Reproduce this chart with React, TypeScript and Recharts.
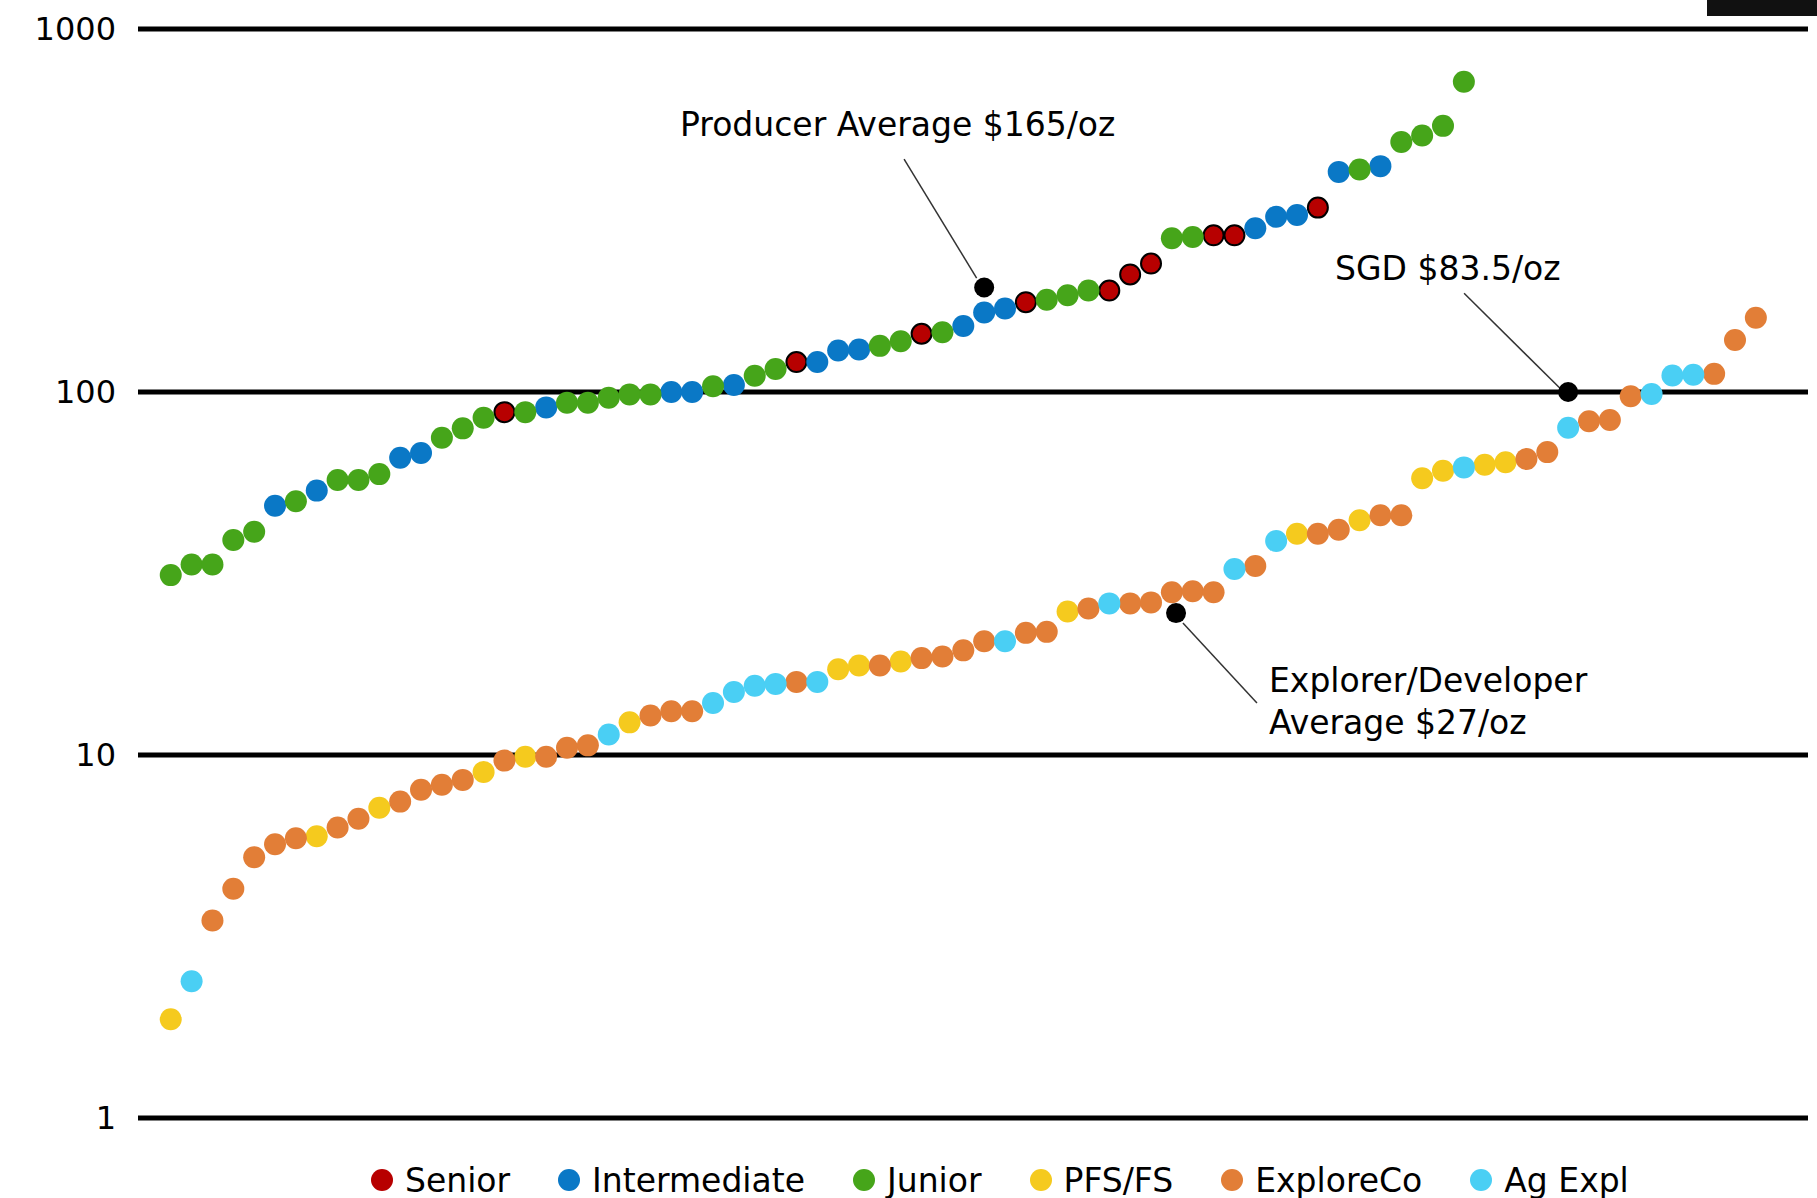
import React from "react";
import {
  ScatterChart,
  Scatter,
  XAxis,
  YAxis,
  ReferenceLine,
  ReferenceDot,
  Legend,
} from "recharts";

const FONT = "'DejaVu Sans', sans-serif";

const categories = ["Senior", "Intermediate", "Junior", "PFS/FS", "ExploreCo", "Ag Expl"];
const categoryCodes = ["S", "I", "J", "P", "E", "A"];
const categoryColors = ["#B70000", "#0A78C6", "#46A51A", "#F5CA1E", "#E27E37", "#4ACFF4"];

// producers, sorted by value ($/oz)
const producerValues = [
  31.3, 33.5, 33.5, 39.1, 41.2, 48.6, 50.0, 53.5, 57.2, 57.2,
  59.4, 65.9, 67.9, 74.8, 79.4, 84.9, 88.0, 88.0, 90.7, 93.4,
  93.4, 96.4, 98.5, 98.5, 100, 100, 103.7, 104.5, 110.8, 115.7,
  120.9, 120.9, 130.1, 131, 134, 138, 144.7, 146, 152, 165.6,
  169.9, 176.8, 179.5, 184.8, 190.3, 190.3, 210.8, 225.9, 265.3, 267.3,
  270.2, 270.2, 282.4, 303.8, 307.2, 322.1, 404, 410, 419, 488.6,
  508.6, 541, 716,
];
const producerTypes = [
  "J", "J", "J", "J", "J", "I", "J", "I", "J", "J",
  "J", "I", "I", "J", "J", "J", "S", "J", "I", "J",
  "J", "J", "J", "J", "I", "I", "J", "I", "J", "J",
  "S", "I", "I", "I", "J", "J", "S", "J", "I", "I",
  "I", "S", "J", "J", "J", "S", "S", "S", "J", "J",
  "S", "S", "I", "I", "I", "S", "I", "J", "I", "J",
  "J", "J", "J",
];

// explorers / developers
const explorerValues = [
  1.87, 2.38, 3.5, 4.28, 5.23, 5.68, 5.9, 5.97, 6.31, 6.67,
  7.16, 7.44, 8.02, 8.28, 8.54, 8.98, 9.65, 9.89, 9.89, 10.47,
  10.63, 11.39, 12.3, 12.84, 13.2, 13.2, 13.9, 14.92, 15.51, 15.7,
  15.9, 15.9, 17.22, 17.64, 17.64, 18.09, 18.49, 18.68, 19.42, 20.58,
  20.58, 21.7, 21.84, 24.85, 25.33, 26.16, 26.16, 26.33, 28.08, 28.27,
  28.08, 32.55, 33.17, 38.87, 40.68, 40.68, 41.72, 44.31, 45.75, 45.75,
  57.88, 60.71, 61.99, 63.06, 64.06, 65.4, 68.3, 79.7, 83.1, 83.7,
  97.3, 98.7, 111.1, 111.5, 112.2, 139.1, 160.1,
];
const explorerTypes = [
  "P", "A", "E", "E", "E", "E", "E", "P", "E", "E",
  "P", "E", "E", "E", "E", "P", "E", "P", "E", "E",
  "E", "A", "P", "E", "E", "E", "A", "A", "A", "A",
  "E", "A", "P", "P", "E", "P", "E", "E", "E", "E",
  "A", "E", "E", "P", "E", "A", "E", "E", "E", "E",
  "E", "A", "E", "A", "P", "E", "E", "P", "E", "E",
  "P", "P", "A", "P", "P", "E", "E", "A", "E", "E",
  "E", "A", "A", "A", "E", "E", "E",
];

const yTicks = [1, 10, 100, 1000];

// annotation markers and leader lines (data coordinates)
const producerMarker = { x: 39, y: 194 };
const producerLeader = [{ x: 35.16, y: 438 }, { x: 38.64, y: 206 }];
const sgdMarker = { x: 67, y: 100 };
const sgdLeader = [{ x: 62.01, y: 187 }, { x: 66.61, y: 102.4 }];
const explorerMarker = { x: 48.2, y: 24.6 };
const explorerLeader = [{ x: 48.53, y: 23.1 }, { x: 52.08, y: 13.9 }];

const pointsFor = (code: string) => {
  const pts: { x: number; y: number }[] = [];
  producerValues.forEach((v, i) => {
    if (producerTypes[i] === code) pts.push({ x: i, y: v });
  });
  explorerValues.forEach((v, i) => {
    if (explorerTypes[i] === code) pts.push({ x: i, y: v });
  });
  return pts;
};

const makeDot = (fill: string, outlined: boolean) => (props: any) => (
  <circle
    cx={props.cx}
    cy={props.cy}
    r={outlined ? 10 : 11}
    fill={fill}
    stroke={outlined ? "#000" : "none"}
    strokeWidth={outlined ? 2 : 0}
  />
);

const renderLegend = () => (
  <div
    style={{
      display: "flex",
      alignItems: "center",
      height: 40,
      fontFamily: FONT,
      fontSize: 33,
      color: "#000",
      whiteSpace: "nowrap",
    }}
  >
    {categories.map((name, i) => (
      <div key={name} style={{ display: "flex", alignItems: "center", marginRight: 48 }}>
        <span
          style={{
            display: "inline-block",
            width: 22,
            height: 22,
            borderRadius: "50%",
            background: categoryColors[i],
            marginRight: 12,
          }}
        />
        <span>{name}</span>
      </div>
    ))}
  </div>
);

const noteStyle: React.CSSProperties = {
  position: "absolute",
  fontFamily: FONT,
  fontSize: 33,
  lineHeight: "42px",
  color: "#000",
  whiteSpace: "nowrap",
};

const App = () => {
  return (
    <div style={{ position: "absolute", left: 0, top: 0, width: 1817, height: 1198, background: "#fff" }}>
      <ScatterChart width={1817} height={1198} margin={{ top: 29, right: 9, bottom: 40, left: 0 }}>
        <XAxis type="number" dataKey="x" domain={[-1.57, 78.5]} hide />
        <YAxis
          type="number"
          dataKey="y"
          scale="log"
          domain={[1, 1000]}
          ticks={yTicks}
          interval={0}
          allowDataOverflow
          width={138}
          axisLine={false}
          tickLine={false}
          tickSize={0}
          tickMargin={22}
          tick={{ fill: "#000", fontSize: 32, fontFamily: FONT }}
        />
        {yTicks.map((t) => (
          <ReferenceLine key={t} y={t} stroke="#000" strokeWidth={5} />
        ))}
        {categories.map((name, i) => (
          <Scatter
            key={name}
            name={name}
            data={pointsFor(categoryCodes[i])}
            fill={categoryColors[i]}
            shape={makeDot(categoryColors[i], categoryCodes[i] === "S")}
            isAnimationActive={false}
          />
        ))}
        <ReferenceLine segment={producerLeader} stroke="#333" strokeWidth={1.5} ifOverflow="visible" />
        <ReferenceLine segment={sgdLeader} stroke="#333" strokeWidth={1.5} ifOverflow="visible" />
        <ReferenceLine segment={explorerLeader} stroke="#333" strokeWidth={1.5} ifOverflow="visible" />
        <ReferenceDot x={producerMarker.x} y={producerMarker.y} r={10} fill="#000" stroke="none" />
        <ReferenceDot x={sgdMarker.x} y={sgdMarker.y} r={10} fill="#000" stroke="none" />
        <ReferenceDot x={explorerMarker.x} y={explorerMarker.y} r={10} fill="#000" stroke="none" />
        <Legend
          verticalAlign="bottom"
          content={renderLegend}
          wrapperStyle={{ top: 1160, bottom: "auto", left: 371, width: 1440 }}
        />
      </ScatterChart>
      <div style={{ ...noteStyle, left: 680, top: 104 }}>Producer Average $165/oz</div>
      <div style={{ ...noteStyle, left: 1335, top: 248 }}>SGD $83.5/oz</div>
      <div style={{ ...noteStyle, left: 1269, top: 660 }}>
        Explorer/Developer
        <br />
        Average $27/oz
      </div>
      <div style={{ position: "absolute", left: 1707, top: 0, width: 110, height: 16, background: "#111" }} />
    </div>
  );
};

export default App;
